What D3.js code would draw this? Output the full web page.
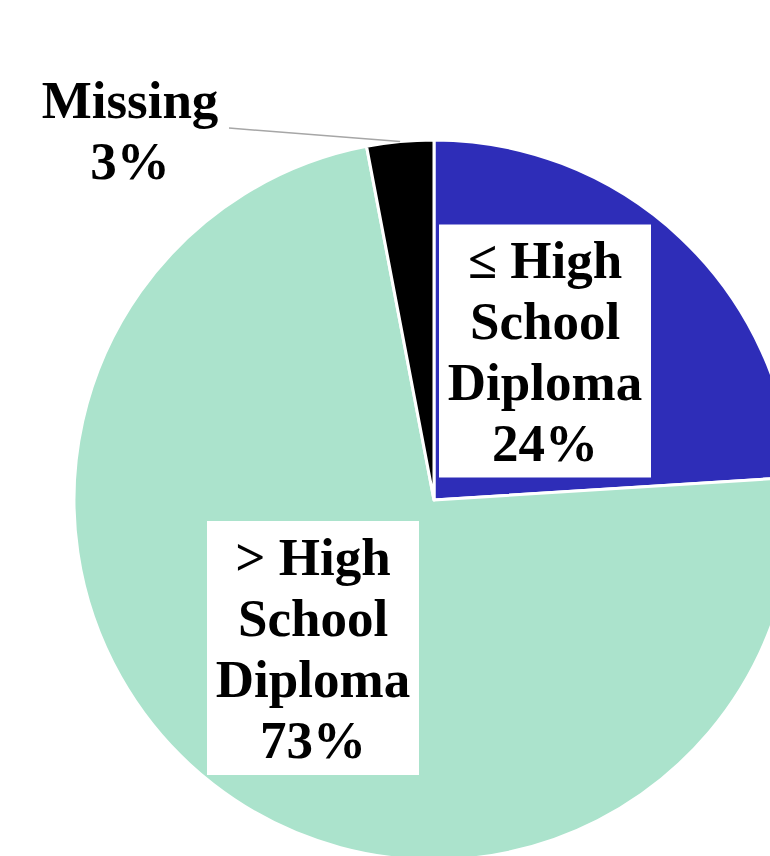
<!DOCTYPE html>
<html>
<head>
<meta charset="utf-8">
<script src="https://cdn.jsdelivr.net/npm/d3@7"></script>
<style>
  html, body { margin: 0; padding: 0; background: #fff; }
  svg { display: block; }
  text { font-family: "Liberation Serif", "Times New Roman", serif; font-weight: bold; fill: #000; }
</style>
</head>
<body>
<svg id="chart" width="770" height="856"></svg>
<script>
// Education level breakdown
const categories = ["\u2264 High School Diploma", "> High School Diploma", "Missing"];
const values = [24, 73, 3];
const labelLines = [
  ["\u2264 High", "School", "Diploma", "24%"],
  ["> High", "School", "Diploma", "73%"],
  ["Missing", "3%"]
];
const colors = ["#2E2DB8", "#ABE3CC", "#000000"];

const W = 770, H = 856;
const cx = 434, cy = 500, R = 360;
const fontSize = 53, lineH = 61;

const svg = d3.select("#chart");
const g = svg.append("g").attr("transform", `translate(${cx},${cy})`);

const pie = d3.pie().sort(null).value(d => d.value);
const arcs = pie(categories.map((c, i) => ({ name: c, value: values[i], lines: labelLines[i] })));
const arc = d3.arc().innerRadius(0).outerRadius(R);

g.selectAll("path.slice")
  .data(arcs)
  .join("path")
  .attr("class", "slice")
  .attr("d", arc)
  .attr("fill", (d, i) => colors[i])
  .attr("stroke", "#fff")
  .attr("stroke-width", 3)
  .attr("stroke-linejoin", "round");

// Label placement (relative to pie centre): boxed labels inside slices, outside label for the small slice
const labelLayout = [
  { x: 111, y: -149, boxed: true, w: 212, h: 253 },
  { x: -121, y: 148, boxed: true, w: 212, h: 254 },
  { x: -304, y: -370, boxed: false }
];

arcs.forEach((d, i) => {
  const L = labelLayout[i];
  const lines = d.data.lines;
  const lg = g.append("g").attr("transform", `translate(${L.x},${L.y})`);
  if (L.boxed) {
    lg.append("rect")
      .attr("x", -L.w / 2).attr("y", -L.h / 2)
      .attr("width", L.w).attr("height", L.h)
      .attr("fill", "#fff");
  }
  const n = lines.length;
  const firstBaseline = -((n - 1) * lineH) / 2 + fontSize * 0.34;
  lg.append("text")
    .attr("text-anchor", "middle")
    .attr("font-size", fontSize)
    .selectAll("tspan")
    .data(lines)
    .join("tspan")
    .attr("x", 0)
    .attr("y", (t, j) => firstBaseline + j * lineH)
    .text(t => t);
});

// Leader line for the small slice
const miss = arcs[2];
const edgeAngle = (miss.startAngle + miss.endAngle) / 2;
const edgeX = Math.sin(edgeAngle) * R, edgeY = -Math.cos(edgeAngle) * R;
g.append("line")
  .attr("x1", 229 - cx).attr("y1", 128 - cy)
  .attr("x2", edgeX).attr("y2", edgeY)
  .attr("stroke", "#a6a6a6")
  .attr("stroke-width", 1.5);
</script>
</body>
</html>
